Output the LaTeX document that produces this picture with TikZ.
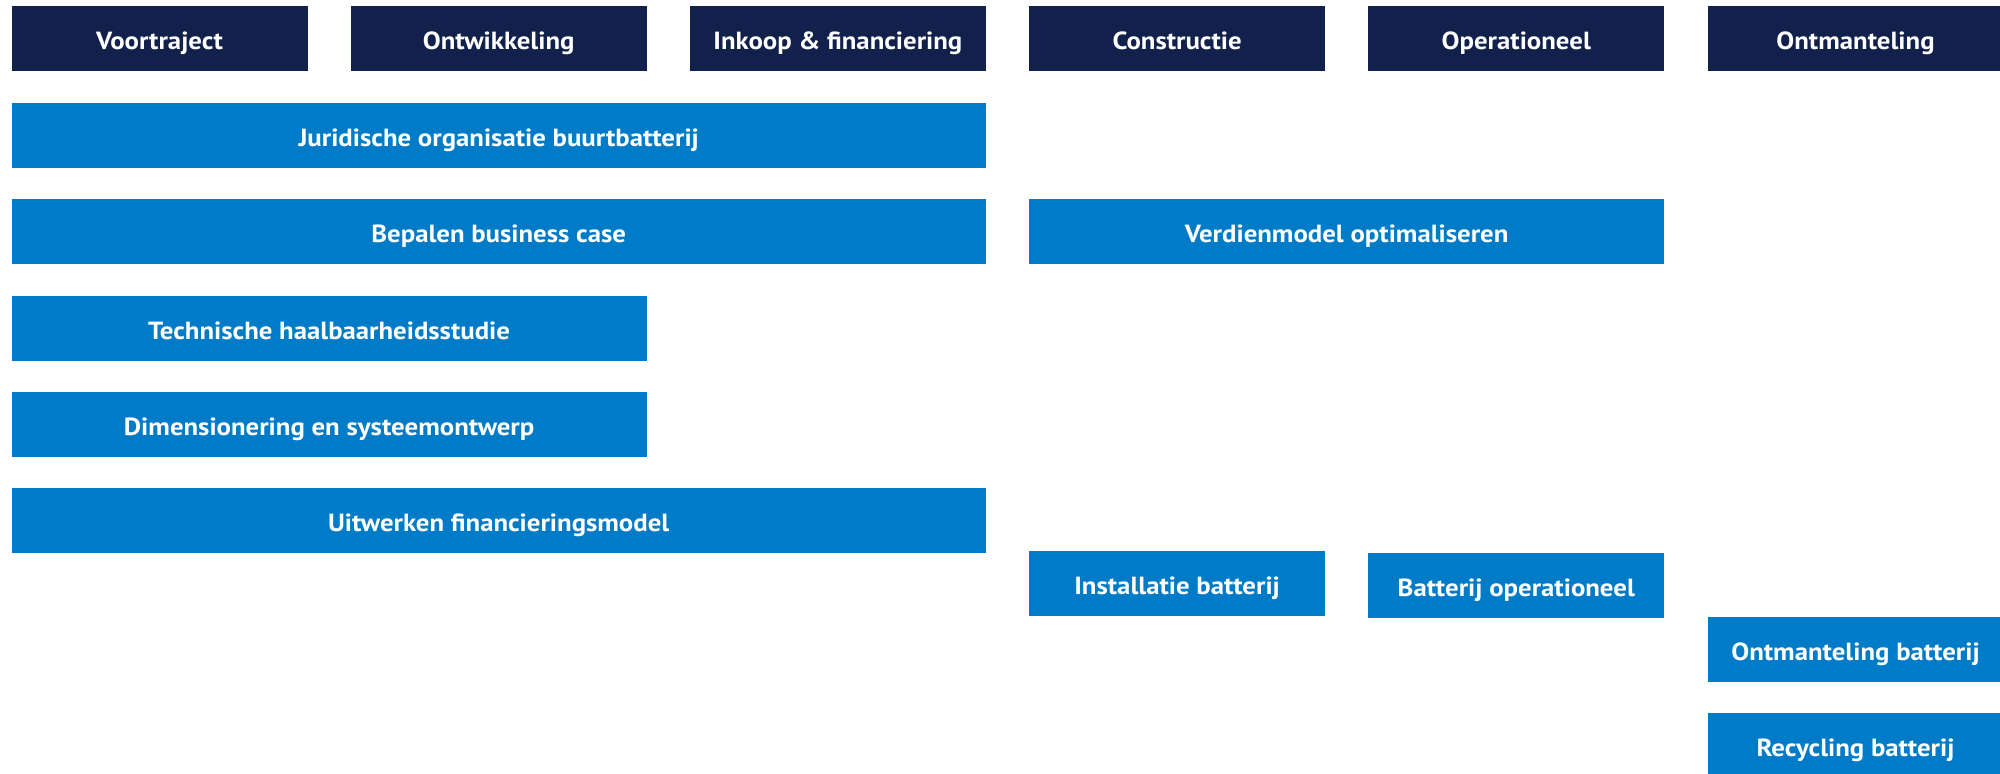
\documentclass[tikz,border=0pt]{standalone}
\usepackage{fontspec}
\setmainfont{PT Sans}[FakeStretch=1.08]
\definecolor{navy}{RGB}{18,33,76}
\definecolor{sky}{RGB}{0,123,199}
\begin{document}
\begin{tikzpicture}[x=0.5pt,y=-0.5pt,
  bar/.style={anchor=north west, inner sep=0pt, outer sep=0pt, text=white,
    font=\bfseries\fontsize{12.4}{14}\selectfont,
    text height=11pt, text depth=0pt, minimum height=32.3pt},
  phase/.style={bar, fill=navy},
  task/.style={bar, fill=sky}]
\useasboundingbox (0,0) rectangle (2000,774);
\clip (0,0) rectangle (2000,774);
% phase headers
\node[phase, minimum width=148pt] (p1) at (11.5,6) {Voortraject};
\node[phase, minimum width=148pt] (p2) at (350.7,6) {Ontwikkeling};
\node[phase, minimum width=148pt] (p3) at (689.9,6) {Inkoop \& financiering};
\node[phase, minimum width=148pt] (p4) at (1029.1,6) {Constructie};
\node[phase, minimum width=148pt] (p5) at (1368.3,6) {Operationeel};
\node[phase, minimum width=148pt] (p6) at (1707.5,6) {Ontmanteling};
% activities
\node[task, minimum width=487.2pt] (t1) at (11.5,103) {Juridische organisatie buurtbatterij};
\node[task, minimum width=487.2pt] (t2) at (11.5,199) {Bepalen business case};
\node[task, minimum width=317.6pt] (t3) at (1029.1,199) {Verdienmodel optimaliseren};
\node[task, minimum width=317.6pt] (t4) at (11.5,296) {Technische haalbaarheidsstudie};
\node[task, minimum width=317.6pt] (t5) at (11.5,392) {Dimensionering en systeemontwerp};
\node[task, minimum width=487.2pt] (t6) at (11.5,488) {Uitwerken financieringsmodel};
\node[task, minimum width=148pt] (t7) at (1029.1,551) {Installatie batterij};
\node[task, minimum width=148pt] (t8) at (1368.3,553) {Batterij operationeel};
\node[task, minimum width=148pt] (t9) at (1707.5,617) {Ontmanteling batterij};
\node[task, minimum width=148pt] (t10) at (1707.5,713) {Recycling batterij};
\end{tikzpicture}
\end{document}
